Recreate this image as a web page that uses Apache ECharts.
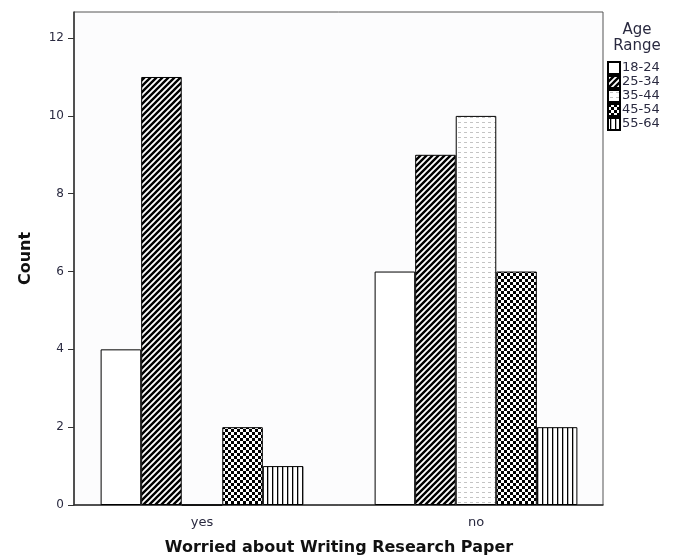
<!DOCTYPE html>
<html>
<head>
<meta charset="utf-8">
<script src="https://cdn.jsdelivr.net/npm/echarts@6/dist/echarts.min.js"></script>
<style>
  html, body { margin: 0; padding: 0; background: #fff; }
  #chart { width: 681px; height: 558px; }
</style>
</head>
<body>
<div id="chart"></div>
<script>
var categories = ['yes', 'no'];
var ageRanges = ['18-24', '25-34', '35-44', '45-54', '55-64'];
var age1824 = [4, 6];
var age2534 = [11, 9];
var age3544 = [0, 10];
var age4554 = [2, 6];
var age5564 = [1, 2];
var countTicks = [0, 2, 4, 6, 8, 10, 12];

// small canvas tiles for the SPSS style fills
function tile(w, h, draw) {
  var c = document.createElement('canvas');
  c.width = w; c.height = h;
  var ctx = c.getContext('2d');
  ctx.fillStyle = '#fff';
  ctx.fillRect(0, 0, w, h);
  draw(ctx);
  return { image: c, repeat: 'repeat' };
}

var plainFill = '#fff';
var diagFill = tile(6, 6, function(ctx) {
  ctx.strokeStyle = '#000';
  ctx.lineWidth = 2.4;
  ctx.beginPath();
  ctx.moveTo(-1, 7); ctx.lineTo(7, -1);
  ctx.moveTo(-4, 4); ctx.lineTo(4, -4);
  ctx.moveTo(2, 10); ctx.lineTo(10, 2);
  ctx.stroke();
});
var dotFill = tile(6, 5, function(ctx) {
  ctx.fillStyle = '#c4c4c4';
  ctx.fillRect(2, 2, 3, 1);
});
var checkFill = tile(6, 6, function(ctx) {
  ctx.fillStyle = '#000';
  ctx.fillRect(0, 0, 3, 3);
  ctx.fillRect(3, 3, 3, 3);
});
var vertFill = tile(5, 1, function(ctx) {
  ctx.fillStyle = '#000';
  ctx.fillRect(2, 0, 1.3, 1);
});

var fills = [plainFill, diagFill, dotFill, checkFill, vertFill];
var values = [age1824, age2534, age3544, age4554, age5564];

var series = [];
for (var i = 0; i < ageRanges.length; i++) {
  series.push({
    name: ageRanges[i],
    type: 'bar',
    xAxisIndex: 1,
    yAxisIndex: 1,
    data: values[i],
    barGap: '0%',
    barCategoryGap: '26%',
    itemStyle: {
      color: fills[i],
      borderColor: '#000',
      borderWidth: 1
    },
    emphasis: { disabled: true }
  });
}

var chart = echarts.init(document.getElementById('chart'));
chart.setOption({
  animation: false,
  backgroundColor: '#fff',
  textStyle: { fontFamily: 'DejaVu Sans' },
  grid: [
    // frame
    {
      left: 74, right: 78, top: 12, bottom: 53,
      outerBoundsMode: 'none',
      show: true,
      backgroundColor: '#fcfcfd',
      borderColor: '#555',
      borderWidth: 1
    },
    // bars (SPSS pads the category range a bit on each side)
    { left: 65, right: 68, top: 12, bottom: 53, outerBoundsMode: 'none' }
  ],
  legend: {
    orient: 'vertical',
    left: 607,
    top: 61,
    padding: 0,
    itemWidth: 12,
    itemHeight: 12,
    itemGap: 0,
    icon: 'rect',
    textStyle: { fontSize: 13, color: '#2a2a40', padding: [0, 0, 0, -3] },
    data: ageRanges
  },
  graphic: [{
    type: 'text',
    x: 637,
    y: 22,
    style: {
      text: 'Age\nRange',
      fontSize: 15,
      lineHeight: 16,
      align: 'center',
      fill: '#2a2a40',
      fontFamily: 'DejaVu Sans'
    }
  }],
  xAxis: [
    {
      type: 'category',
      gridIndex: 0,
      data: categories,
      axisLine: { lineStyle: { color: '#333', width: 1.5 } },
      axisTick: { show: false },
      axisLabel: { show: false }
    },
    {
      type: 'category',
      gridIndex: 1,
      data: categories,
      name: 'Worried about Writing Research Paper',
      nameLocation: 'middle',
      nameGap: 35,
      nameTextStyle: { fontSize: 16, fontWeight: 'bold', color: '#111' },
      axisLine: { show: false },
      axisTick: { alignWithLabel: true, length: 6, lineStyle: { color: '#333' } },
      axisLabel: { fontSize: 13, color: '#2a2a40', margin: 11 }
    }
  ],
  yAxis: [
    {
      type: 'value',
      gridIndex: 0,
      min: 0,
      max: 12.67,
      name: 'Count',
      nameLocation: 'middle',
      nameGap: 40,
      nameTextStyle: { fontSize: 16, fontWeight: 'bold', color: '#111' },
      axisLine: { show: true, lineStyle: { color: '#333', width: 1.5 } },
      axisTick: { show: true, length: 6, customValues: countTicks, lineStyle: { color: '#333' } },
      axisLabel: { fontSize: 12, color: '#2a2a40', margin: 10, customValues: countTicks },
      splitLine: { show: false }
    },
    {
      type: 'value',
      gridIndex: 1,
      min: 0,
      max: 12.67,
      show: false,
      splitLine: { show: false }
    }
  ],
  series: series
});
</script>
</body>
</html>
